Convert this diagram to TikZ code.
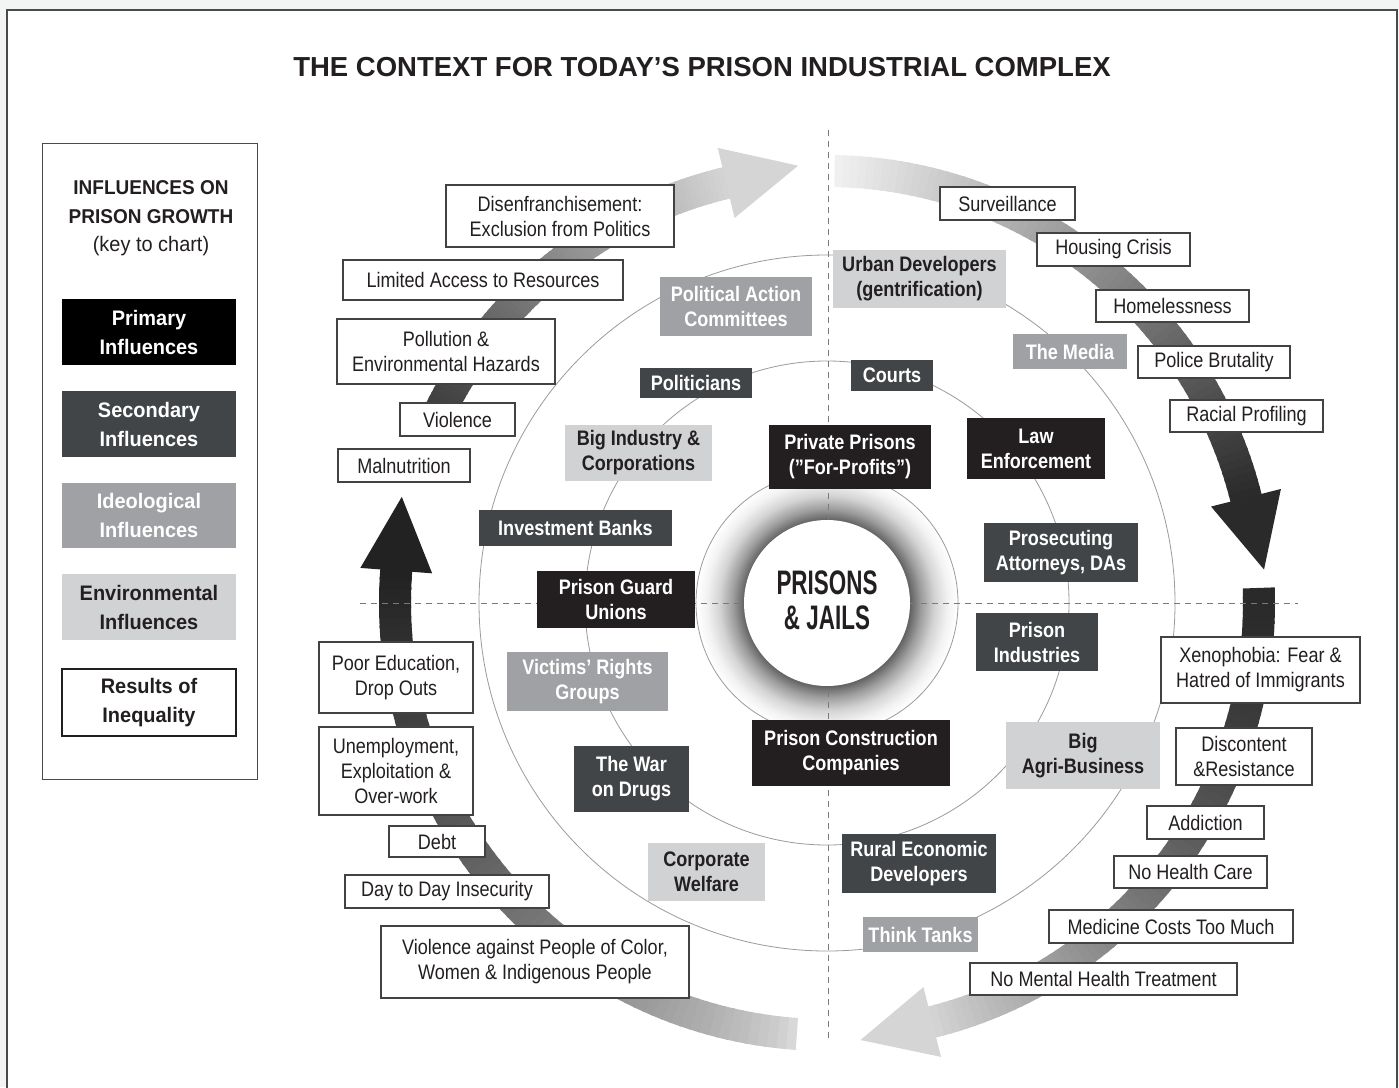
\documentclass[tikz,border=0pt]{standalone}
\usepackage{fontspec}
\setmainfont{Liberation Sans}
\newfontfamily\condf[FakeStretch=0.86]{Liberation Sans}
\newfontfamily\legf[FakeStretch=0.95]{Liberation Sans}
\newfontfamily\bigf[FakeStretch=0.66]{Liberation Sans}
\usetikzlibrary{calc}
\definecolor{primc}{HTML}{231F20}
\definecolor{secc}{HTML}{424547}
\definecolor{ideoc}{HTML}{A0A1A4}
\definecolor{envc}{HTML}{D1D2D4}
\definecolor{ink}{HTML}{231F20}
\definecolor{circc}{HTML}{9B9B9B}
\definecolor{dashc}{HTML}{7A7A7A}
\definecolor{bgc}{HTML}{F3F4F4}
\definecolor{framec}{HTML}{4A4A4A}
\pgfdeclareradialshading{ringshade}{\pgfpoint{0bp}{0bp}}{color(0bp)=(black!62); color(15.8bp)=(black!62); color(18bp)=(black!38); color(20.5bp)=(black!17); color(23bp)=(black!5); color(25bp)=(white); color(50bp)=(white)}
\newcommand{\mybox}[7]{%
  \pgfmathsetmacro\bxw{#5-#3}\pgfmathsetmacro\bxh{#6-#4}%
  \pgfmathsetmacro\bxx{(#3+#5)/2}\pgfmathsetmacro\bxy{-(#4+#6)/2}%
  \node[#1, minimum width=\bxw pt, minimum height=\bxh pt] (#2) at (\bxx,\bxy) {#7};}
\newcommand{\gradarrow}[5]{%
  \pgfmathsetmacro\ga{#1}\pgfmathsetmacro\gb{#2}%
  \foreach \i in {0,...,71}{%
    \pgfmathsetmacro\ta{\ga+(\gb-\ga)*\i/72}%
    \pgfmathsetmacro\tb{\ga+(\gb-\ga)*(\i+1)/72-0.35}%
    \pgfmathtruncatemacro\gv{#3+(#4-#3)*((\i+0.5)/72)^#5}%
    \fill[fill={rgb,255:red,\gv;green,\gv;blue,\gv}] (\ta:416) arc[start angle=\ta, end angle=\tb, radius=416] -- (\tb:448) arc[start angle=\tb, end angle=\ta, radius=448] -- cycle;
  }%
  \pgfmathsetmacro\tx{432*cos(\gb)+74*cos(\gb-90)}%
  \pgfmathsetmacro\ty{432*sin(\gb)+74*sin(\gb-90)}%
  \fill[fill={rgb,255:red,#4;green,#4;blue,#4}] (\gb:396) -- (\gb:468) -- (\tx,\ty) -- cycle;
}
\tikzset{
  base/.style={rectangle, inner sep=0pt, align=center, font=\condf\fontsize{21}{25}\selectfont},
  infl/.style={base, font=\condf\bfseries\fontsize{21}{25}\selectfont},
  prim/.style={infl, fill=primc, text=white},
  sec/.style={infl, fill=secc, text=white},
  ideo/.style={infl, fill=ideoc, text=white},
  env/.style={infl, fill=envc, text=ink},
  res/.style={base, fill=white, draw=ink!85, line width=1.3pt, text=ink},
  leg/.style={rectangle, inner sep=0pt, align=center, font=\legf\bfseries\fontsize{21}{29}\selectfont},
  ring/.style={circle, inner sep=0pt, draw=circc, line width=0.8pt},
  dashline/.style={draw=dashc, line width=0.9pt, dash pattern=on 6pt off 5pt}
}
\begin{document}
\begin{tikzpicture}[x=1pt,y=1pt]
\useasboundingbox (0,0) rectangle (1399,-1087);
\fill[bgc] (0,0) rectangle (1399,-1087);
\draw[framec, line width=2pt, fill=white] (7,-10) rectangle (1397,-1110);

% title
\node[font=\bfseries\fontsize{27.5}{33}\selectfont, text=ink] (title) at (702,-67) {THE CONTEXT FOR TODAY’S PRISON INDUSTRIAL COMPLEX};

% legend
\mybox{draw=framec, line width=1pt, rectangle, inner sep=0pt}{legframe}{42}{143}{257}{779}{}
\node[align=center, font=\legf\bfseries\fontsize{20}{29}\selectfont, text=ink] (keyhead) at (151,-202) {INFLUENCES ON\\PRISON GROWTH};
\node[font=\legf\fontsize{21}{25}\selectfont, text=ink] (keysub) at (151,-246) {(key to chart)};
\mybox{leg, fill=black, text=white}{kprim}{62}{299}{236}{365}{Primary\\Influences}
\mybox{leg, fill=secc, text=white}{ksec}{62}{391}{236}{457}{Secondary\\Influences}
\mybox{leg, fill=ideoc, text=white}{kideo}{62}{483}{236}{548}{Ideological\\Influences}
\mybox{leg, fill=envc, text=ink}{kenv}{62}{574}{236}{640}{Environmental\\Influences}
\mybox{leg, fill=white, draw=ink, line width=1.3pt, text=ink}{kres}{62}{669}{236}{736}{Results of\\Inequality}

% big arrows
\begin{scope}[shift={(827,-603)}]
\gradarrow{89}{14.1}{242}{42}{1}
\gradarrow{155}{103.5}{58}{213}{1}
\gradarrow{266}{175.7}{222}{34}{0.7}
\gradarrow{2}{-75.9}{42}{213}{1.5}
\end{scope}

% rings
\shade[shading=ringshade] (827,-603) circle[radius=131];
\node[ring, minimum size=262pt] (ringin) at (827,-603) {};
\node[ring, minimum size=484pt] (ringmid) at (827,-603) {};
\node[ring, minimum size=696pt] (ringout) at (827,-603) {};

% dashed axes
\coordinate (vtop) at (828,-130);
\coordinate (vbot) at (828,-1040);
\coordinate (hleft) at (360,-603);
\coordinate (hright) at (1298,-603);
\draw[dashline] (vtop) -- (vbot);
\draw[dashline] (hleft) -- (hright);

% core
\node[circle, fill=white, inner sep=0pt, minimum size=166pt] (core) at (827,-603) {};
\node[align=center, font=\bigf\bfseries\fontsize{34}{35}\selectfont, text=ink] (pj) at (827,-600) {PRISONS\\\& JAILS};

% primary
\mybox{prim}{private}{769}{425}{931}{489}{Private Prisons\\(”For-Profits”)}
\mybox{prim}{law}{967}{418}{1105}{479}{Law\\Enforcement}
\mybox{prim}{guard}{537}{571}{695}{628}{Prison Guard\\Unions}
\mybox{prim}{construct}{752}{720}{950}{786}{Prison Construction\\Companies}

% secondary
\mybox{sec}{courts}{851}{360}{933}{391}{Courts}
\mybox{sec}{politicians}{640}{368}{752}{398}{Politicians}
\mybox{sec}{invest}{479}{510}{672}{546}{Investment Banks}
\mybox{sec}{prosec}{984}{523}{1138}{582}{Prosecuting\\Attorneys, DAs}
\mybox{sec}{prisind}{976}{613}{1098}{671}{Prison\\Industries}
\mybox{sec}{wardrugs}{574}{746}{689}{812}{The War\\on Drugs}
\mybox{sec}{rural}{842}{834}{996}{893}{Rural Economic\\Developers}

% ideological
\mybox{ideo}{pac}{660}{277}{812}{336}{Political Action\\Committees}
\mybox{ideo}{media}{1013}{334}{1127}{369}{The Media}
\mybox{ideo}{victims}{507}{652}{668}{711}{Victims’ Rights\\Groups}
\mybox{ideo}{think}{863}{917}{978}{952}{Think Tanks}

% environmental
\mybox{env}{urban}{833}{250}{1006}{308}{Urban Developers\\(gentrification)}
\mybox{env}{bigind}{565}{425}{712}{481}{Big Industry \&\\Corporations}
\mybox{env}{agri}{1006}{722}{1160}{789}{Big\\Agri-Business}
\mybox{env}{corpw}{648}{843}{765}{901}{Corporate\\Welfare}

% results of inequality
\mybox{res}{dis}{446}{185}{674}{247}{Disenfranchisement:\\Exclusion from Politics}
\mybox{res}{lim}{343}{260}{623}{300}{Limited Access to Resources}
\mybox{res}{pol}{337}{319}{555}{384}{Pollution \&\\Environmental Hazards}
\mybox{res}{vio}{400}{403}{515}{436}{Violence}
\mybox{res}{mal}{338}{449}{470}{482}{Malnutrition}
\mybox{res}{poor}{319}{642}{473}{713}{Poor Education,\\Drop Outs}
\mybox{res}{unemp}{319}{727}{473}{815}{Unemployment,\\Exploitation \&\\Over-work}
\mybox{res}{debt}{389}{826}{485}{857}{Debt}
\mybox{res}{day}{345}{875}{549}{908}{Day to Day Insecurity}
\mybox{res}{vag}{381}{926}{689}{998}{Violence against People of Color,\\Women \& Indigenous People}
\mybox{res}{surv}{940}{187}{1075}{220}{Surveillance}
\mybox{res}{hous}{1037}{233}{1190}{266}{Housing Crisis}
\mybox{res}{home}{1096}{290}{1249}{322}{Homelessness}
\mybox{res}{police}{1138}{346}{1290}{378}{Police Brutality}
\mybox{res}{racial}{1170}{400}{1323}{432}{Racial Profiling}
\mybox{res}{xeno}{1161}{637}{1360}{703}{Xenophobia: Fear \&\\Hatred of Immigrants}
\mybox{res}{disc}{1176}{728}{1312}{785}{Discontent\\\&Resistance}
\mybox{res}{addict}{1147}{806}{1264}{839}{Addiction}
\mybox{res}{nohc}{1114}{856}{1267}{888}{No Health Care}
\mybox{res}{med}{1049}{910}{1293}{943}{Medicine Costs Too Much}
\mybox{res}{nomh}{970}{963}{1237}{995}{No Mental Health Treatment}
\end{tikzpicture}
\end{document}
